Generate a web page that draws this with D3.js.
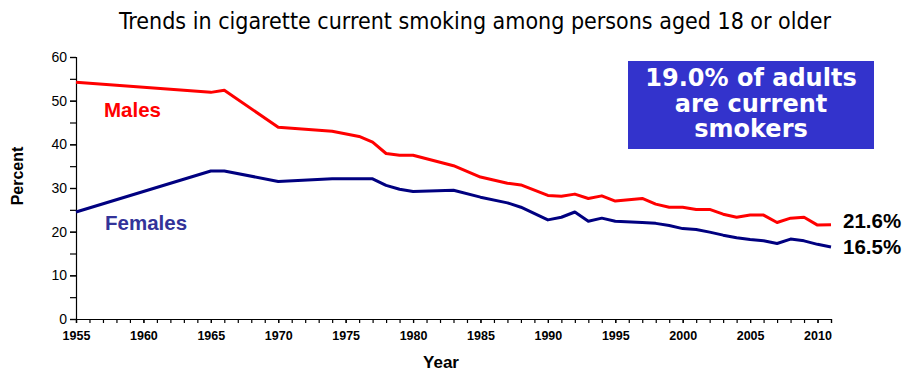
<!DOCTYPE html>
<html>
<head>
<meta charset="utf-8">
<script src="https://d3js.org/d3.v7.min.js"></script>
<style>
  body { margin: 0; background: #fff; }
  svg { display: block; }
</style>
</head>
<body>
<div class="graph"></div>
<script>
// data
var years   = [1955, 1965, 1966, 1970, 1974, 1976, 1977, 1978, 1979, 1980, 1983, 1985, 1987, 1988, 1990, 1991, 1992, 1993, 1994, 1995, 1997, 1998, 1999, 2000, 2001, 2002, 2003, 2004, 2005, 2006, 2007, 2008, 2009, 2010, 2011];
var males   = [54.2, 51.9, 52.4, 43.9, 43.0, 41.8, 40.5, 37.9, 37.5, 37.5, 35.1, 32.5, 31.1, 30.7, 28.3, 28.1, 28.6, 27.6, 28.2, 27.0, 27.6, 26.3, 25.6, 25.6, 25.1, 25.1, 24.0, 23.3, 23.8, 23.8, 22.1, 23.1, 23.3, 21.5, 21.6];
var females = [24.5, 33.9, 33.9, 31.5, 32.1, 32.1, 32.1, 30.6, 29.7, 29.2, 29.5, 27.9, 26.6, 25.6, 22.7, 23.3, 24.5, 22.4, 23.1, 22.4, 22.1, 21.9, 21.4, 20.7, 20.5, 19.9, 19.2, 18.6, 18.2, 17.9, 17.3, 18.3, 17.9, 17.1, 16.5];
var xTicks  = [1955, 1960, 1965, 1970, 1975, 1980, 1985, 1990, 1995, 2000, 2005, 2010];
var yTicks  = [0, 10, 20, 30, 40, 50, 60];
var endLabels = ["21.6%", "16.5%"];
var boxLines = ["19.0% of adults", "are current", "smokers"];

// set the dimensions and margins of the graph
var margin = {top: 57, right: 76, bottom: 53, left: 76},
    width = 907 - margin.left - margin.right,
    height = 372 - margin.top - margin.bottom;

var x = d3.scaleLinear().domain([1955, 2011]).range([0, width]);
var y = d3.scaleLinear().domain([0, 60]).range([height, 0]);

var svg = d3.select(".graph").append("svg")
    .attr("width", 907)
    .attr("height", 372);

// title
svg.append("text")
    .attr("x", 475)
    .attr("y", 29)
    .attr("text-anchor", "middle")
    .style("font-family", "'DejaVu Sans Condensed', 'DejaVu Sans', sans-serif")
    .style("font-size", "23px")
    .style("fill", "#000")
    .text("Trends in cigarette current smoking among persons aged 18 or older");

var g = svg.append("g")
    .attr("transform", "translate(" + margin.left + "," + margin.top + ")");

// minor ticks: every year on x, every 5 on y
g.append("g")
    .attr("transform", "translate(0," + height + ")")
    .call(d3.axisBottom(x).tickValues(d3.range(1955, 2012)).tickSize(4).tickFormat(""))
    .call(function(a) { a.select(".domain").remove(); });

g.append("g")
    .call(d3.axisLeft(y).tickValues(d3.range(0, 61, 5)).tickSize(6).tickFormat(""))
    .call(function(a) { a.select(".domain").remove(); });

// X axis
var xAxis = g.append("g")
    .attr("transform", "translate(0," + height + ")")
    .call(d3.axisBottom(x).tickValues(xTicks).tickSize(4).tickPadding(8).tickFormat(d3.format("d")));
xAxis.selectAll("text")
    .style("font-family", "'Liberation Sans', Arial, sans-serif")
    .style("font-size", "12.5px")
    .style("font-weight", "bold")
    .style("fill", "#000");

// Y axis
var yAxis = g.append("g")
    .call(d3.axisLeft(y).tickValues(yTicks).tickSize(6).tickPadding(3));
yAxis.selectAll("text")
    .style("font-family", "'Liberation Sans', Arial, sans-serif")
    .style("font-size", "14px")
    .style("fill", "#000");

g.selectAll(".domain, .tick line").style("stroke", "#000").style("stroke-width", 1.2);

// axis titles
svg.append("text")
    .attr("transform", "translate(23,176) rotate(-90)")
    .attr("text-anchor", "middle")
    .style("font-family", "'Liberation Sans', Arial, sans-serif")
    .style("font-size", "16px")
    .style("font-weight", "bold")
    .text("Percent");

svg.append("text")
    .attr("x", 441)
    .attr("y", 368)
    .attr("text-anchor", "middle")
    .style("font-family", "'Liberation Sans', Arial, sans-serif")
    .style("font-size", "17px")
    .style("font-weight", "bold")
    .text("Year");

// lines
var line = d3.line()
    .x(function(d) { return x(d.year); })
    .y(function(d) { return y(d.value); });

function appendPath(values, color) {
  var data = years.map(function(yr, i) { return {year: yr, value: values[i]}; });
  g.append("path")
      .datum(data)
      .attr("fill", "none")
      .attr("stroke", color)
      .attr("stroke-width", 3)
      .attr("stroke-linejoin", "round")
      .attr("d", line);
}

appendPath(males, "#ff0000");
appendPath(females, "#000080");

// series labels
svg.append("text")
    .attr("x", 104).attr("y", 117)
    .style("font-family", "'Liberation Sans', Arial, sans-serif")
    .style("font-size", "20.5px").style("font-weight", "bold")
    .style("fill", "#ff0000")
    .text("Males");

svg.append("text")
    .attr("x", 105).attr("y", 230)
    .style("font-family", "'Liberation Sans', Arial, sans-serif")
    .style("font-size", "20.5px").style("font-weight", "bold")
    .style("fill", "#333399")
    .text("Females");

// end labels (nudged apart a little, as in the original)
var endNudge = [3, 7];
svg.selectAll("text.end")
    .data([males[males.length - 1], females[females.length - 1]])
    .enter().append("text")
    .attr("class", "end")
    .attr("x", 843)
    .attr("y", function(d, i) { return margin.top + y(d) + endNudge[i]; })
    .style("font-family", "'Liberation Sans', Arial, sans-serif")
    .style("font-size", "20.5px").style("font-weight", "bold")
    .style("fill", "#000")
    .text(function(d, i) { return endLabels[i]; });

// callout box
svg.append("rect")
    .attr("x", 628).attr("y", 61)
    .attr("width", 246).attr("height", 88)
    .style("fill", "#3333cc");

svg.selectAll("text.box")
    .data(boxLines)
    .enter().append("text")
    .attr("class", "box")
    .attr("x", 751)
    .attr("y", function(d, i) { return 86 + i * 25.5; })
    .attr("text-anchor", "middle")
    .style("font-family", "'DejaVu Sans', Verdana, sans-serif")
    .style("font-size", "24px").style("font-weight", "bold")
    .style("fill", "#fff")
    .text(function(d) { return d; });
</script>
</body>
</html>
